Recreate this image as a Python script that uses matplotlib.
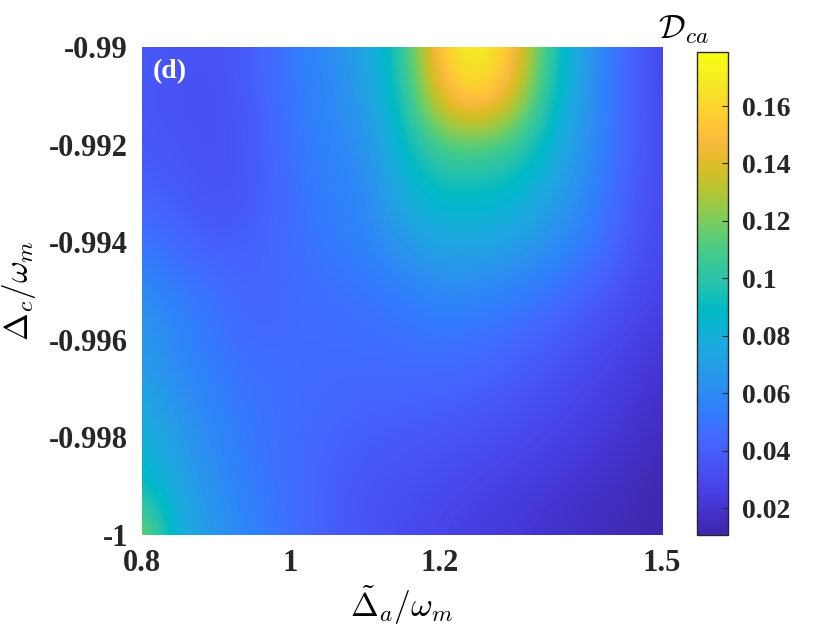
import numpy as np
import matplotlib
matplotlib.use("Agg")
import matplotlib.pyplot as plt
from matplotlib.colors import LinearSegmentedColormap

# grid of the map
delta_a = [0.8, 0.85, 0.9, 0.95, 1.0, 1.05, 1.1, 1.15, 1.2, 1.25, 1.3, 1.35, 1.4, 1.45, 1.5]
delta_c = [-0.99, -0.991, -0.992, -0.993, -0.994, -0.995, -0.996, -0.997, -0.998, -0.999, -1.0]

# D_ca values, one row per delta_c (top row = -0.99)
d_ca = [
    [0.038, 0.036, 0.035, 0.040, 0.052, 0.060, 0.073, 0.100, 0.157, 0.179, 0.153, 0.100, 0.066, 0.045, 0.028],
    [0.037, 0.034, 0.034, 0.039, 0.051, 0.058, 0.069, 0.095, 0.146, 0.164, 0.142, 0.094, 0.064, 0.043, 0.029],
    [0.038, 0.036, 0.034, 0.037, 0.049, 0.057, 0.062, 0.088, 0.110, 0.113, 0.105, 0.084, 0.062, 0.044, 0.030],
    [0.042, 0.038, 0.035, 0.037, 0.047, 0.055, 0.058, 0.078, 0.090, 0.089, 0.087, 0.072, 0.058, 0.041, 0.030],
    [0.050, 0.044, 0.038, 0.042, 0.046, 0.052, 0.056, 0.068, 0.075, 0.076, 0.072, 0.063, 0.054, 0.039, 0.029],
    [0.062, 0.053, 0.049, 0.041, 0.046, 0.048, 0.050, 0.053, 0.060, 0.058, 0.055, 0.050, 0.042, 0.034, 0.027],
    [0.068, 0.057, 0.050, 0.045, 0.046, 0.046, 0.047, 0.048, 0.050, 0.049, 0.045, 0.039, 0.033, 0.028, 0.022],
    [0.073, 0.062, 0.054, 0.049, 0.047, 0.045, 0.044, 0.044, 0.043, 0.041, 0.037, 0.033, 0.028, 0.024, 0.018],
    [0.082, 0.068, 0.058, 0.050, 0.047, 0.043, 0.039, 0.038, 0.036, 0.034, 0.031, 0.028, 0.024, 0.020, 0.015],
    [0.093, 0.073, 0.062, 0.052, 0.047, 0.040, 0.036, 0.034, 0.031, 0.028, 0.025, 0.022, 0.019, 0.016, 0.012],
    [0.128, 0.078, 0.066, 0.056, 0.048, 0.040, 0.035, 0.031, 0.028, 0.024, 0.022, 0.019, 0.016, 0.014, 0.011],
]

x_ticks = [0.8, 1.0, 1.2, 1.5]
x_ticklabels = ["0.8", "1", "1.2", "1.5"]
y_ticks = [-0.99, -0.992, -0.994, -0.996, -0.998, -1.0]
y_ticklabels = ["-0.99", "-0.992", "-0.994", "-0.996", "-0.998", "-1"]
cb_ticks = [0.02, 0.04, 0.06, 0.08, 0.10, 0.12, 0.14, 0.16]
cb_ticklabels = ["0.02", "0.04", "0.06", "0.08", "0.1", "0.12", "0.14", "0.16"]
c_min, c_max = 0.0107, 0.1788

# parula-like colormap (MATLAB default)
parula_pts = [
    (0.2422, 0.1504, 0.6603), (0.2578, 0.1818, 0.7511), (0.2706, 0.2147, 0.8364),
    (0.2783, 0.2559, 0.8991), (0.2813, 0.3006, 0.9414), (0.2795, 0.3447, 0.9717),
    (0.2699, 0.3892, 0.9906), (0.2440, 0.4358, 0.9988), (0.1963, 0.4847, 0.9892),
    (0.1786, 0.5289, 0.9682), (0.1687, 0.5703, 0.9359), (0.1460, 0.6091, 0.9079),
    (0.1248, 0.6459, 0.8883), (0.0952, 0.6798, 0.8598), (0.0297, 0.7082, 0.8163),
    (0.0067, 0.7312, 0.7660), (0.0964, 0.7500, 0.7120), (0.1717, 0.7670, 0.6554),
    (0.2161, 0.7843, 0.5923), (0.2906, 0.7973, 0.5188), (0.3909, 0.8029, 0.4354),
    (0.5044, 0.7993, 0.3480), (0.6174, 0.7876, 0.2612), (0.7242, 0.7698, 0.1910),
    (0.8203, 0.7498, 0.1535), (0.9035, 0.7330, 0.1774), (0.9728, 0.7298, 0.2394),
    (0.9970, 0.7659, 0.2199), (0.9892, 0.8136, 0.1885), (0.9676, 0.8639, 0.1643),
    (0.9597, 0.9135, 0.1423), (0.9691, 0.9606, 0.1064), (0.9769, 0.9839, 0.0805),
]
parula = LinearSegmentedColormap.from_list("parula", parula_pts, N=256)

plt.rcParams["font.family"] = ["Liberation Serif", "DejaVu Serif"]
plt.rcParams["font.weight"] = "bold"
plt.rcParams["mathtext.fontset"] = "cm"

fig = plt.figure(figsize=(8.4, 6.3), dpi=100)
ax = fig.add_axes([142 / 840, 95 / 630, 520 / 840, 488 / 630])
cax = fig.add_axes([697 / 840, 95 / 630, 31 / 840, 483 / 630])

dx = delta_a[1] - delta_a[0]
dy = abs(delta_c[0] - delta_c[1])
im = ax.imshow(np.array(d_ca), cmap=parula, vmin=c_min, vmax=c_max,
               origin="upper", aspect="auto", interpolation="bicubic",
               extent=[delta_a[0] - dx / 2, delta_a[-1] + dx / 2,
                       delta_c[-1] - dy / 2, delta_c[0] + dy / 2])
ax.set_xlim(0.8, 1.5)
ax.set_ylim(-1.0, -0.99)

ax.set_xticks(x_ticks)
ax.set_xticklabels(x_ticklabels, fontsize=22, fontweight="bold", color="#262626")
ax.set_yticks(y_ticks)
ax.set_yticklabels(y_ticklabels, fontsize=22, fontweight="bold", color="#262626")
ax.tick_params(length=0, pad=10)
for s in ax.spines.values():
    s.set_visible(False)

ax.set_xlabel(r"$\tilde{\Delta}_a/\omega_m$", fontsize=24, labelpad=4)
ax.set_ylabel(r"$\Delta_c/\omega_m$", fontsize=24, labelpad=8)
ax.text(0.02, 0.975, "(d)", transform=ax.transAxes, color="white",
        fontsize=20, fontweight="bold", ha="left", va="top")

cb = fig.colorbar(im, cax=cax, ticks=cb_ticks)
cb.ax.set_yticklabels(cb_ticklabels, fontsize=20, fontweight="bold", color="#262626")
cb.ax.tick_params(direction="in", length=4, width=0.8, pad=10, color="#262626")
cb.outline.set_linewidth(1.0)
cb.outline.set_edgecolor("#262626")
fig.text(683 / 840, 1 - 30 / 630, r"$\mathcal{D}_{ca}$", fontsize=24,
         ha="center", va="center")

fig.savefig("out.png", dpi=100)
